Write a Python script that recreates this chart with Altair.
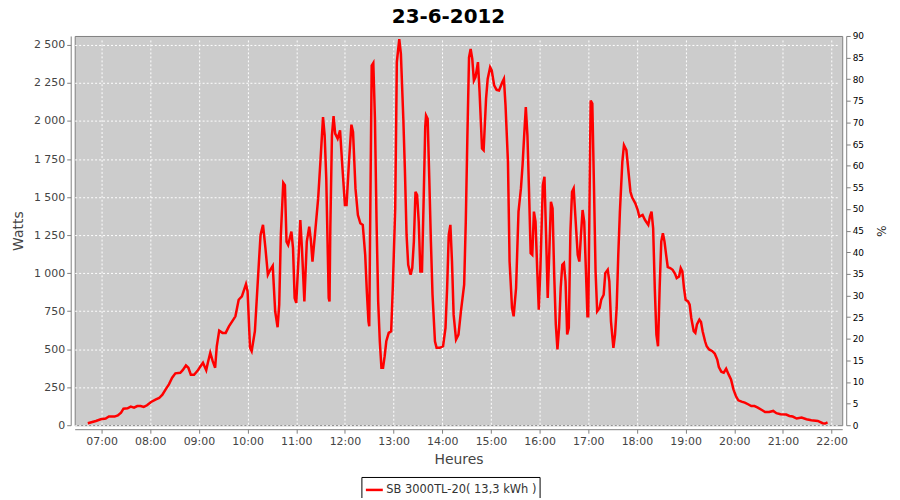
import altair as alt
import pandas as pd

# Time of each sample (hh:mm) and power in Watts
times = [
    "06:43", "06:53", "06:59", "07:05", "07:09", "07:16", "07:20", "07:24", "07:27", "07:32",
    "07:36", "07:40", "07:44", "07:48", "07:52", "07:56", "08:01", "08:07", "08:11", "08:15",
    "08:19", "08:23", "08:27", "08:31", "08:37", "08:40", "08:44", "08:47", "08:50", "08:54",
    "08:58", "09:02", "09:05", "09:09", "09:11", "09:14", "09:17", "09:20", "09:22", "09:25",
    "09:29", "09:33", "09:37", "09:41", "09:45", "09:49", "09:53", "09:58", "10:00", "10:03",
    "10:05", "10:09", "10:14", "10:16", "10:19", "10:22", "10:25", "10:28", "10:31", "10:34",
    "10:37", "10:39", "10:41", "10:44", "10:46", "10:48", "10:50", "10:54", "10:56", "10:58",
    "11:00", "11:03", "11:05", "11:07", "11:10", "11:13", "11:16", "11:18", "11:20", "11:23",
    "11:27", "11:30", "11:33", "11:35", "11:37", "11:40", "11:41", "11:42", "11:44", "11:46",
    "11:48", "11:51", "11:54", "11:57", "12:00", "12:02", "12:05", "12:08", "12:10", "12:13",
    "12:16", "12:19", "12:22", "12:25", "12:27", "12:29", "12:30", "12:31", "12:33", "12:35",
    "12:37", "12:39", "12:41", "12:43", "12:45", "12:47", "12:49", "12:51", "12:54", "12:57",
    "12:59", "13:02", "13:04", "13:07", "13:09", "13:12", "13:14", "13:16", "13:18", "13:21",
    "13:23", "13:25", "13:27", "13:29", "13:31", "13:33", "13:35", "13:37", "13:39", "13:40",
    "13:42", "13:44", "13:46", "13:48", "13:51", "13:53", "13:57", "14:01", "14:04", "14:06",
    "14:08", "14:10", "14:12", "14:14", "14:17", "14:20", "14:23", "14:27", "14:29", "14:31",
    "14:33", "14:35", "14:37", "14:39", "14:41", "14:44", "14:46", "14:49", "14:51", "14:54",
    "14:56", "14:59", "15:01", "15:04", "15:07", "15:10", "15:14", "15:16", "15:18", "15:21",
    "15:23", "15:26", "15:28", "15:31", "15:34", "15:37", "15:39", "15:41", "15:43", "15:45",
    "15:47", "15:49", "15:51", "15:53", "15:55", "15:57", "15:59", "16:01", "16:04", "16:06",
    "16:08", "16:10", "16:12", "16:14", "16:16", "16:18", "16:20", "16:22", "16:24", "16:26",
    "16:28", "16:30", "16:32", "16:34", "16:36", "16:38", "16:40", "16:42", "16:44", "16:47",
    "16:49", "16:51", "16:53", "16:55", "16:57", "16:59", "17:00", "17:02", "17:03", "17:05",
    "17:07", "17:09", "17:11", "17:14", "17:16", "17:19", "17:21", "17:24", "17:26", "17:28",
    "17:31", "17:33", "17:35", "17:37", "17:39", "17:42", "17:44", "17:47", "17:50", "17:52",
    "17:54", "17:58", "18:01", "18:03", "18:07", "18:10", "18:14", "18:16", "18:18", "18:20",
    "18:22", "18:24", "18:26", "18:28", "18:30", "18:32", "18:34", "18:36", "18:38", "18:41",
    "18:44", "18:47", "18:49", "18:52", "18:54", "18:56", "18:58", "19:00", "19:03", "19:05",
    "19:07", "19:10", "19:12", "19:14", "19:17", "19:19", "19:21", "19:24", "19:26", "19:29",
    "19:33", "19:36", "19:39", "19:41", "19:44", "19:47", "19:50", "19:53", "19:56", "19:59",
    "20:02", "20:05", "20:09", "20:13", "20:17", "20:21", "20:25", "20:29", "20:34", "20:38",
    "20:43", "20:48", "20:52", "20:57", "21:04", "21:08", "21:12", "21:17", "21:23", "21:29",
    "21:35", "21:43", "21:49", "21:52", "21:55",
]
watts = [
    13, 28, 39, 44, 57, 57, 65, 83, 109, 111,
    122, 116, 126, 126, 120, 131, 153, 170, 179, 201,
    236, 269, 312, 341, 345, 362, 393, 378, 332, 332,
    356, 388, 411, 362, 411, 476, 421, 378, 519, 622,
    607, 607, 650, 683, 716, 825, 847, 928, 880, 509,
    487, 618, 1076, 1251, 1317, 1164, 989, 1022, 1048, 749,
    644, 793, 1251, 1594, 1579, 1207, 1186, 1273, 1164, 836,
    804, 1120, 1349, 1164, 814, 1207, 1305, 1218, 1076, 1251,
    1491, 1753, 2026, 1906, 1622, 836, 814, 1295, 1906, 2032,
    1917, 1884, 1939, 1688, 1448, 1448, 1731, 1976, 1928, 1557,
    1382, 1328, 1317, 1120, 880, 683, 650, 1251, 2365, 2382,
    2015, 1338, 814, 552, 378, 378, 454, 552, 607, 618,
    902, 1426, 2387, 2539, 2441, 2015, 1666, 1251, 1055, 989,
    1033, 1207, 1535, 1513, 1338, 1011, 1011, 1469, 1960, 2037,
    2015, 1622, 1207, 858, 552, 509, 509, 519, 640, 902,
    1251, 1317, 1076, 727, 563, 596, 749, 924, 1338, 1906,
    2419, 2474, 2408, 2266, 2288, 2387, 2190, 1819, 1808, 2147,
    2277, 2353, 2332, 2234, 2205, 2201, 2255, 2277, 2103, 1731,
    1076, 771, 716, 902, 1404, 1557, 1710, 1906, 2092, 1906,
    1535, 1131, 1120, 1404, 1338, 1033, 760, 1033, 1579, 1633,
    1251, 836, 1142, 1469, 1426, 989, 662, 498, 640, 902,
    1055, 1066, 945, 596, 640, 1273, 1535, 1557, 1382, 1120,
    1076, 1251, 1415, 1338, 1033, 716, 716, 1688, 2135, 2114,
    1579, 1011, 749, 771, 825, 858, 1000, 1022, 945, 683,
    509, 596, 771, 1120, 1404, 1731, 1841, 1808, 1644, 1535,
    1498, 1459, 1415, 1371, 1382, 1349, 1317, 1371, 1404, 1295,
    902, 596, 519, 902, 1207, 1262, 1207, 1120, 1040, 1033,
    1022, 996, 967, 978, 1033, 1011, 902, 825, 814, 793,
    705, 618, 607, 662, 694, 679, 618, 552, 519, 498,
    487, 470, 432, 382, 352, 345, 371, 334, 301, 236,
    192, 164, 155, 149, 138, 126, 126, 116, 100, 87,
    87, 94, 79, 72, 70, 61, 57, 44, 50, 39,
    33, 28, 13, 11, 18,
]
series_label = "SB 3000TL-20( 13,3 kWh )"
watt_ticks = [0, 250, 500, 750, 1000, 1250, 1500, 1750, 2000, 2250, 2500]
pct_ticks = [0, 5, 10, 15, 20, 25, 30, 35, 40, 45, 50, 55, 60, 65, 70, 75, 80, 85, 90]
hour_ticks = list(range(7, 23))

df = pd.DataFrame({
    "t": ["2012-06-23T" + t + ":00" for t in times],
    "w": watts,
    "s": [series_label] * len(times),
})

FONT = "DejaVu Sans"


def dt(h, m=0, s=0):
    return alt.DateTime(year=2012, month=6, date=23, hours=h, minutes=m, seconds=s)


x_scale = alt.Scale(domain=[dt(6, 26, 51), dt(22, 13, 6)], nice=False)
x_axis = alt.Axis(
    title="Heures",
    format="%H:%M",
    values=[dt(h) for h in hour_ticks],
    labelFontSize=11,
    labelColor="#444444",
    titleFontSize=14,
    titleFontWeight="normal",
    titleColor="#444444",
    titlePadding=6,
    grid=True,
)

line = alt.Chart(df).mark_line(strokeWidth=2.5).encode(
    x=alt.X("t:T", scale=x_scale, axis=x_axis),
    y=alt.Y(
        "w:Q",
        scale=alt.Scale(domain=[0, 2559], nice=False, zero=True),
        axis=alt.Axis(
            title="Watts",
            orient="left",
            values=watt_ticks,
            labelExpr="datum.value >= 1000 ? floor(datum.value / 1000) + ' ' + format(datum.value % 1000, '03d') : '' + datum.value",
            labelFontSize=11,
            labelColor="#444444",
            titleFontSize=14,
            titleFontWeight="normal",
            titleColor="#444444",
            titlePadding=8,
            grid=True,
        ),
    ),
    color=alt.Color(
        "s:N",
        scale=alt.Scale(domain=[series_label], range=["#FF0000"]),
        legend=alt.Legend(
            title=None,
            orient="none",
            legendX=288,
            legendY=443,
            direction="horizontal",
            symbolType="stroke",
            symbolSize=289,
            symbolStrokeWidth=2.5,
            labelFontSize=11.5,
            labelFont=FONT,
            labelColor="#333333",
            labelOffset=2,
            strokeColor="#000000",
            padding=3,
        ),
    ),
)

# invisible, clipped layer that only carries the right-hand % axis
pct = alt.Chart(df).mark_line(opacity=0, clip=True).encode(
    x=alt.X("t:T", scale=x_scale, axis=x_axis),
    y=alt.Y(
        "w:Q",
        scale=alt.Scale(domain=[0, 90], nice=False, zero=True),
        axis=alt.Axis(
            title="%",
            orient="right",
            values=pct_ticks,
            labelFontSize=9,
            labelColor="#000000",
            titleFontSize=12,
            titleFontWeight="normal",
            titleColor="#222222",
            titlePadding=10,
            grid=False,
        ),
    ),
)

chart = (
    alt.layer(line, pct)
    .resolve_scale(y="independent")
    .properties(
        width=771,
        height=391,
        autosize=alt.AutoSizeParams(type="none"),
        padding={"left": 67, "top": 27, "right": 50, "bottom": 72},
        title=alt.TitleParams(
            "23-6-2012",
            font=FONT,
            fontSize=20,
            fontWeight="bold",
            color="#000000",
            anchor="middle",
            frame="group",
            dx=-10,
            offset=5,
        ),
    )
    .configure_view(fill="#CCCCCC", stroke="#808080", strokeWidth=1)
    .configure_axis(
        labelFont=FONT,
        titleFont=FONT,
        offset=4,
        tickSize=4,
        tickColor="#808080",
        domainColor="#808080",
        gridColor="#FFFFFF",
        gridDash=[2, 2],
        gridWidth=1,
        gridOpacity=1,
    )
)

chart.save("out.html", embed_options={"renderer": "svg", "actions": False})
